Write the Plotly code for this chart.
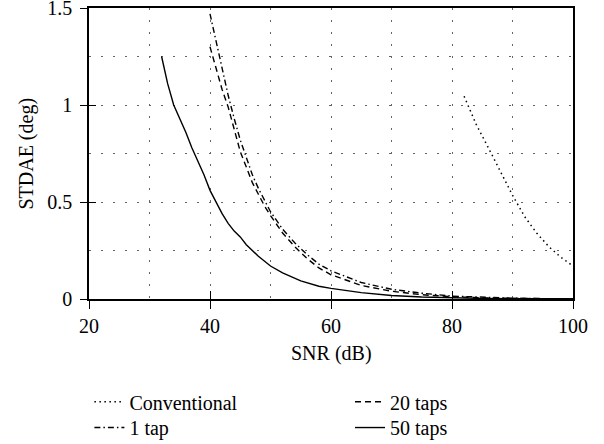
import plotly.graph_objects as go

# Data
snr_conv = [82, 84, 86, 88, 90, 92, 94, 96, 98, 100]
stdae_conv = [1.045, 0.90, 0.78, 0.66, 0.535, 0.425, 0.34, 0.27, 0.215, 0.17]

snr_1tap = [40, 41, 42, 43, 44, 45, 46, 47, 48, 49, 50, 52, 54, 56, 58, 60, 65, 70, 75, 80, 85, 90, 95, 100]
stdae_1tap = [1.47, 1.33, 1.20, 1.05, 0.93, 0.82, 0.73, 0.64, 0.57, 0.51, 0.45, 0.36, 0.29, 0.23, 0.18,
              0.145, 0.085, 0.05, 0.03, 0.015, 0.008, 0.004, 0.002, 0.001]

snr_20taps = [40, 41, 42, 43, 44, 45, 46, 47, 48, 49, 50, 52, 54, 56, 58, 60, 65, 70, 75, 80, 85, 90, 95, 100]
stdae_20taps = [1.30, 1.19, 1.08, 0.99, 0.87, 0.76, 0.68, 0.60, 0.54, 0.48, 0.43, 0.34, 0.27, 0.21, 0.16,
                0.125, 0.07, 0.04, 0.022, 0.012, 0.006, 0.003, 0.0015, 0.001]

snr_50taps = [32, 33, 34, 35, 36, 37, 38, 39, 40, 41, 42, 43, 44, 45, 46, 48, 50, 52, 55, 58, 60, 65, 70, 75, 80, 85, 90, 100]
stdae_50taps = [1.25, 1.11, 1.00, 0.93, 0.86, 0.78, 0.71, 0.64, 0.56, 0.50, 0.44, 0.39, 0.35, 0.32, 0.28,
                0.22, 0.17, 0.135, 0.093, 0.066, 0.055, 0.033, 0.018, 0.01, 0.006, 0.003, 0.002, 0.001]

x_ticks = [20, 40, 60, 80, 100]
y_ticks = [0, 0.5, 1, 1.5]
x_title = "SNR (dB)"
y_title = "STDAE (deg)"

FONT = "Liberation Serif"

fig = go.Figure()
fig.add_trace(go.Scatter(x=snr_conv, y=stdae_conv, mode="lines", name="Conventional", legend="legend",
                         line=dict(color="black", width=1.5, dash="1.5px,3.5px")))
fig.add_trace(go.Scatter(x=snr_20taps, y=stdae_20taps, mode="lines", name="20 taps", legend="legend2",
                         line=dict(color="black", width=1.4, dash="6px,4px")))
fig.add_trace(go.Scatter(x=snr_1tap, y=stdae_1tap, mode="lines", name="1 tap", legend="legend3",
                         line=dict(color="black", width=1.4, dash="6px,3px,1.5px,3px")))
fig.add_trace(go.Scatter(x=snr_50taps, y=stdae_50taps, mode="lines", name="50 taps", legend="legend4",
                         line=dict(color="black", width=1.4)))
# empty trace for overlay axes (inside tick marks)
fig.add_trace(go.Scatter(x=[], y=[], xaxis="x2", yaxis="y2", showlegend=False, hoverinfo="skip"))

grid_dash = "1.5px,10.5px"
grid_col = "#666666"

legend_common = dict(orientation="v", xref="container", yref="container",
                     xanchor="left", yanchor="top", tracegroupgap=0, itemwidth=30,
                     font=dict(family=FONT, size=20, color="black"),
                     bgcolor="rgba(0,0,0,0)")

fig.update_layout(
    width=604, height=444,
    margin=dict(l=89, r=31, t=8, b=145, autoexpand=False),
    paper_bgcolor="white", plot_bgcolor="white",
    font=dict(family=FONT, size=20, color="black"),
    showlegend=True,
    legend=dict(x=0.148, y=0.139, **legend_common),
    legend2=dict(x=0.5795, y=0.139, **legend_common),
    legend3=dict(x=0.148, y=0.081, **legend_common),
    legend4=dict(x=0.5795, y=0.081, **legend_common),
    xaxis=dict(range=[20, 100], tickvals=x_ticks, ticks="outside", ticklen=8, tickwidth=1.3,
               tickcolor="black", showline=True, linecolor="black", linewidth=1.6, mirror=True,
               showgrid=True, gridcolor=grid_col, gridwidth=1.3, griddash=grid_dash,
               minor=dict(dtick=10, showgrid=True, gridcolor=grid_col, gridwidth=1.3, griddash=grid_dash),
               zeroline=False, ticklabeloverflow="allow",
               tickfont=dict(family=FONT, size=20), automargin=False),
    yaxis=dict(range=[0, 1.5], tickvals=y_ticks, ticks="outside", ticklen=7, tickwidth=1.3,
               tickcolor="black", showline=True, linecolor="black", linewidth=1.6, mirror=True,
               showgrid=True, gridcolor=grid_col, gridwidth=1.3, griddash=grid_dash,
               minor=dict(dtick=0.25, showgrid=True, gridcolor=grid_col, gridwidth=1.3, griddash=grid_dash),
               zeroline=False, ticklabeloverflow="allow", ticklabelstandoff=4,
               tickfont=dict(family=FONT, size=20), automargin=False),
    xaxis2=dict(range=[20, 100], tickvals=x_ticks, ticks="inside", ticklen=8, tickwidth=1.3,
                tickcolor="black", overlaying="x", anchor="y2", side="bottom",
                showticklabels=False, showgrid=False, showline=False, zeroline=False),
    yaxis2=dict(range=[0, 1.5], tickvals=y_ticks, ticks="inside", ticklen=7, tickwidth=1.3,
                tickcolor="black", overlaying="y", anchor="x2", side="left",
                showticklabels=False, showgrid=False, showline=False, zeroline=False),
    annotations=[
        dict(text=x_title, xref="paper", yref="paper", x=0.5, y=-0.188, xanchor="center", yanchor="middle",
             showarrow=False, font=dict(family=FONT, size=20, color="black")),
        dict(text=y_title, xref="paper", yref="paper", x=-0.130, y=0.5, xanchor="center", yanchor="middle",
             textangle=-90, showarrow=False, font=dict(family=FONT, size=20, color="black")),
    ],
)

fig.write_html("out.html", config={"displayModeBar": False},
               post_script="document.body.style.margin='0';document.body.style.overflow='hidden';")
